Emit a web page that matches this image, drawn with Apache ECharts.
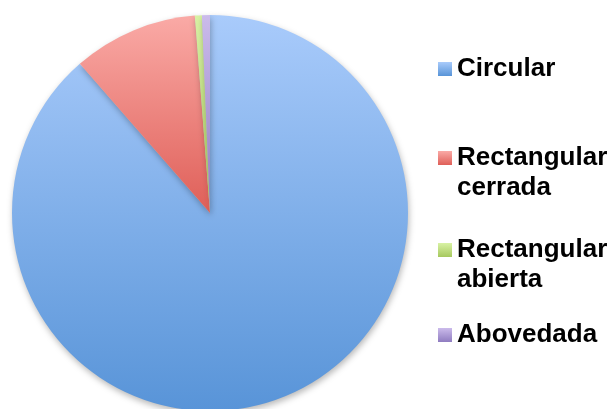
<!DOCTYPE html>
<html>
<head>
<meta charset="utf-8">
<style>
  html, body { margin: 0; padding: 0; background: #ffffff; }
  #chart { width: 613px; height: 409px; }
</style>
<script src="https://cdn.jsdelivr.net/npm/echarts@6/dist/echarts.min.js"></script>
</head>
<body>
<div id="chart"></div>
<script>
// Share of each section type (%)
const categories = ['Circular', 'Rectangular cerrada', 'Rectangular abierta', 'Abovedada'];
const shares = [88.6, 10.2, 0.57, 0.65];

// Two-tone fills, light at the top, darker at the bottom
const topColors = ['#a9cbfb', '#faaaa6', '#d8f2a4', '#cbbbeb'];
const bottomColors = ['#5894d8', '#df5f58', '#a6c85e', '#8f7cc0'];

function grad(i) {
  return new echarts.graphic.LinearGradient(0, 0, 0, 1, [
    { offset: 0, color: topColors[i] },
    { offset: 1, color: bottomColors[i] }
  ]);
}

const legendTops = [54, 113, 205, 320];
const legendFont = {
  fontFamily: 'Liberation Sans, Arial, sans-serif',
  fontSize: 26,
  fontWeight: 'bold',
  color: '#000000',
  lineHeight: 30
};

// Each entry is its own legend; wrapped names keep the marker beside the first line
const legends = categories.map((name, i) => {
  const twoLines = name.indexOf(' ') > 0;
  return {
    data: [name],
    left: 438,
    top: legendTops[i],
    padding: 0,
    orient: 'vertical',
    icon: 'rect',
    itemWidth: 14,
    itemHeight: 14,
    selectedMode: false,
    formatter: n => twoLines ? ' \n' + n.replace(' ', '\n') : n,
    textStyle: legendFont
  };
});

const chart = echarts.init(document.getElementById('chart'), null, { renderer: 'canvas' });
chart.setOption({
  animation: false,
  backgroundColor: '#ffffff',
  legend: legends,
  series: [{
    type: 'pie',
    center: [210, 213],
    radius: 198,
    startAngle: 90,
    clockwise: true,
    label: { show: false },
    labelLine: { show: false },
    emphasis: { disabled: true },
    itemStyle: {
      shadowBlur: 6,
      shadowOffsetX: 1,
      shadowOffsetY: 3,
      shadowColor: 'rgba(0,0,0,0.28)'
    },
    data: categories.map((name, i) => ({
      name: name,
      value: shares[i],
      itemStyle: { color: grad(i) }
    }))
  }]
});
</script>
</body>
</html>
